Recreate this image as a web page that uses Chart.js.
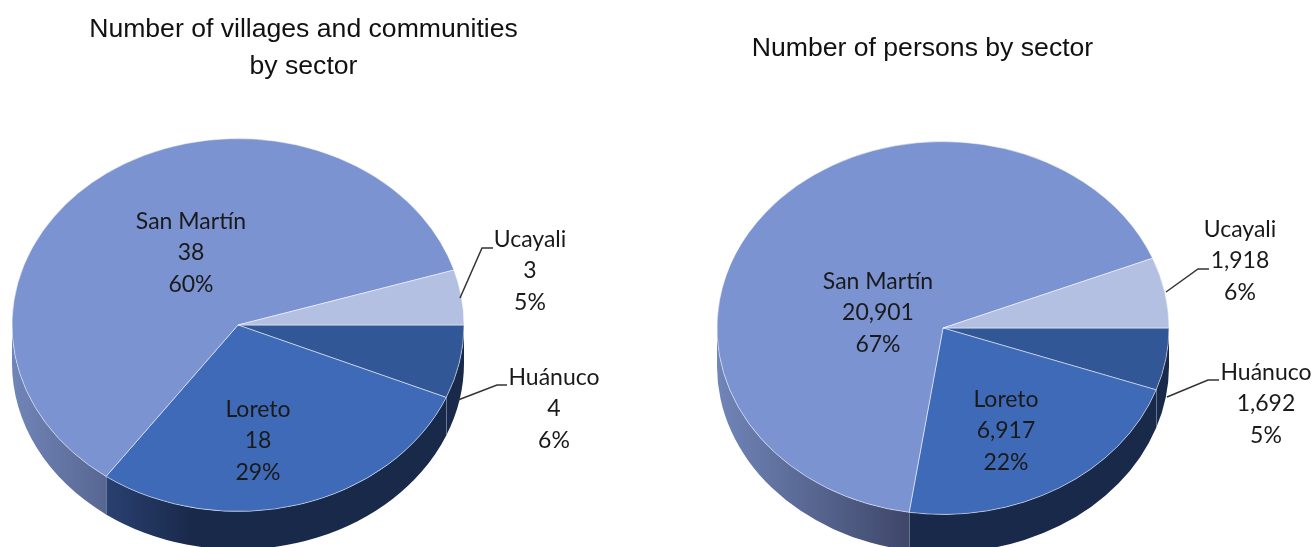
<!DOCTYPE html>
<html>
<head>
<meta charset="utf-8">
<title>Villages and persons by sector</title>
<script src="https://cdn.jsdelivr.net/npm/chart.js@4"></script>
<style>
  html, body { margin: 0; padding: 0; background: #fff; overflow: hidden; }
  canvas { position: absolute; top: 0; }
  #villagesChart { left: 0; }
  #personsChart { left: 656px; }
</style>
</head>
<body>
<canvas id="villagesChart" width="656" height="547"></canvas>
<canvas id="personsChart" width="657" height="547"></canvas>
<script>
const sectors = ['Huánuco', 'Loreto', 'San Martín', 'Ucayali'];
const sectorColors = ['#325797', '#3f6ab7', '#7c93d1', '#b3c0e2'];

const villages = [4, 18, 38, 3];
const villagesPct = ['6%', '29%', '60%', '5%'];
const villagesTitle = ['Number of villages and communities', 'by sector'];

const persons = [1692, 6917, 20901, 1918];
const personsPct = ['5%', '22%', '67%', '6%'];
const personsTitle = ['Number of persons by sector'];

// label centres and leader lines, in canvas pixels
const villagesLabels = [[554, 378], [258, 410], [191, 222], [530, 240]];
const villagesLeaders = [[[458, 400], [497, 385], [507, 385]], null, null, [[460, 298], [482, 248], [493, 248]]];
const personsLabels = [[610, 373], [350, 400], [222, 282], [584, 230]];
const personsLeaders = [[[511, 397], [552, 380], [563, 380]], null, null, [[510, 292], [542, 269], [553, 269]]];

const SQUASH = 0.825;
const DEPTH = 38;

function wallFill(ctx, index, cx, rx) {
    if (index === 2) {
        const g = ctx.createLinearGradient(cx - rx, 0, cx, 0);
        g.addColorStop(0, '#7085b8');
        g.addColorStop(1, '#363c5c');
        return g;
    }
    if (index === 1) {
        const g = ctx.createLinearGradient(cx - rx * 0.6, 0, cx - rx * 0.2, 0);
        g.addColorStop(0, '#2a4172');
        g.addColorStop(1, '#19294a');
        return g;
    }
    return '#19294a';
}

// the chart has no 3D pie, so squash the arcs and add the wall from the arc elements
const pie3d = {
    id: 'pie3d',
    beforeDatasetsDraw(chart) {
        const ctx = chart.ctx;
        const arcs = chart.getDatasetMeta(0).data;
        const cx = arcs[0].x, cy = arcs[0].y;
        const rx = arcs[0].outerRadius, ry = rx * SQUASH;

        arcs.forEach((arc, i) => {
            const a0 = Math.max(arc.startAngle, 0);
            const a1 = Math.min(arc.endAngle, Math.PI);
            if (a1 <= a0) return;
            ctx.beginPath();
            ctx.ellipse(cx, cy, rx, ry, 0, a0, a1);
            ctx.ellipse(cx, cy + DEPTH, rx, ry, 0, a1, a0, true);
            ctx.closePath();
            ctx.fillStyle = wallFill(ctx, i, cx, rx);
            ctx.fill();
            if (arc.endAngle < Math.PI) {
                const x = cx + rx * Math.cos(arc.endAngle);
                const y = cy + ry * Math.sin(arc.endAngle);
                ctx.beginPath();
                ctx.moveTo(x, y);
                ctx.lineTo(x, y + DEPTH);
                ctx.strokeStyle = 'rgba(200,208,225,0.6)';
                ctx.lineWidth = 1;
                ctx.stroke();
            }
        });

        ctx.save();
        ctx.translate(cx, cy);
        ctx.scale(1, SQUASH);
        ctx.translate(-cx, -cy);
    },
    afterDatasetsDraw(chart) {
        chart.ctx.restore();
    },
    afterDraw(chart, args, opts) {
        const ctx = chart.ctx;
        ctx.save();
        ctx.textAlign = 'center';
        ctx.textBaseline = 'middle';
        ctx.fillStyle = '#111';
        ctx.font = '26.6px "Liberation Sans"';
        opts.title.forEach((line, i) => {
            ctx.fillText(line, opts.titleX, opts.titleY + i * 37);
        });

        ctx.strokeStyle = '#333';
        ctx.lineWidth = 1.5;
        opts.leaders.forEach(pts => {
            if (!pts) return;
            ctx.beginPath();
            pts.forEach((p, i) => i ? ctx.lineTo(p[0], p[1]) : ctx.moveTo(p[0], p[1]));
            ctx.stroke();
        });

        ctx.font = '23px Lato';
        ctx.fillStyle = '#1a1a1a';
        const values = chart.data.datasets[0].data;
        sectors.forEach((name, i) => {
            const [x, y] = opts.labels[i];
            ctx.fillText(name, x, y);
            ctx.fillText(values[i].toLocaleString('en-US'), x, y + 31);
            ctx.fillText(opts.pct[i], x, y + 63);
        });
        ctx.restore();
    }
};

function makePie(id, values, pct, title, titleX, titleY, labels, leaders, padding) {
    return new Chart(document.getElementById(id), {
        type: 'pie',
        data: {
            labels: sectors,
            datasets: [{
                data: values,
                backgroundColor: sectorColors,
                borderColor: 'rgba(255,255,255,0.55)',
                borderWidth: 1,
                clip: false
            }]
        },
        options: {
            responsive: false,
            animation: false,
            rotation: 90,
            radius: 226,
            layout: { padding: padding },
            plugins: {
                legend: { display: false },
                tooltip: { enabled: false },
                pie3d: { title, titleX, titleY, labels, leaders, pct }
            }
        },
        plugins: [pie3d]
    });
}

makePie('villagesChart', villages, villagesPct, villagesTitle, 303.5, 30, villagesLabels, villagesLeaders, { top: 103, right: 180 });
makePie('personsChart', persons, personsPct, personsTitle, 266.5, 49, personsLabels, personsLeaders, { top: 109, right: 83 });
</script>
</body>
</html>
